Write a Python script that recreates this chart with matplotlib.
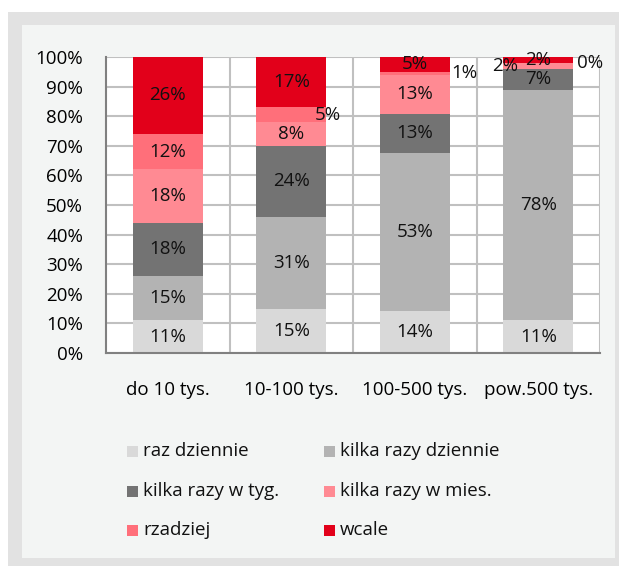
import matplotlib.pyplot as plt
from matplotlib.patches import Rectangle
import numpy as np

plt.rcParams['font.family'] = ['Open Sans', 'DejaVu Sans']

# ===== dane =====
categories = ['do 10 tys.', '10-100 tys.', '100-500 tys.', 'pow.500 tys.']
series = ['raz dziennie', 'kilka razy dziennie', 'kilka razy w tyg.',
          'kilka razy w mies.', 'rzadziej', 'wcale']
raz_dziennie = [11, 15, 14, 11]
kilka_dziennie = [15, 31, 53, 78]
kilka_tyg = [18, 24, 13, 7]
kilka_mies = [18, 8, 13, 2]
rzadziej = [12, 5, 1, 0]
wcale = [26, 17, 5, 2]

colors = ['#d9d9d9', '#b3b3b3', '#737373', '#ff8a93', '#ff6f7a', '#e2001a']
# etykiety przesunięte obok słupka: (kategoria, seria) -> przesunięcie x
label_shift = {(1, 4): 0.30, (2, 4): 0.40, (3, 3): -0.27, (3, 4): 0.42}
FS = 13.5

W, H = 619, 566
fig = plt.figure(figsize=(W / 100, H / 100), dpi=100, facecolor='white')

# ramka tła
fig.add_artist(Rectangle((8 / W, 0), 1, 1 - 12 / H, transform=fig.transFigure,
                         facecolor='#e2e2e2', edgecolor='none', zorder=-10))
fig.add_artist(Rectangle((22 / W, 1 - 558 / H), (615 - 22) / W, (558 - 25) / H,
                         transform=fig.transFigure, facecolor='#f3f5f4',
                         edgecolor='none', zorder=-9))

ax = fig.add_axes([106 / W, 1 - 353 / H, (600 - 106) / W, (353 - 57) / H])
ax.set_facecolor('white')

data = np.array([raz_dziennie, kilka_dziennie, kilka_tyg, kilka_mies, rzadziej, wcale], dtype=float)
pct = data / data.sum(axis=0) * 100  # wykres 100% skumulowany
x = np.arange(len(categories))
bottom = np.zeros(len(categories))
for i, name in enumerate(series):
    ax.bar(x, pct[i], 0.57, bottom=bottom, color=colors[i], label=name, zorder=3)
    for j in range(len(categories)):
        shift = label_shift.get((j, i))
        if data[i, j] == 0 and shift is None:
            continue
        ax.text(x[j] + (shift or 0), bottom[j] + pct[i, j] / 2, f'{int(data[i, j])}%',
                ha='center', va='center', fontsize=FS, color='#111111', zorder=5)
    bottom += pct[i]

ax.set_xlim(-0.5, 3.5)
ax.set_ylim(0, 100)
ax.set_yticks(np.arange(0, 101, 10))
ax.set_yticklabels([f'{v}%' for v in range(0, 101, 10)], fontsize=FS)
ax.set_xticks(x)
ax.set_xticklabels(categories, fontsize=FS)
ax.set_xticks([0.5, 1.5, 2.5, 3.5], minor=True)
ax.tick_params(axis='both', which='both', length=0)
ax.tick_params(axis='x', pad=20)
ax.tick_params(axis='y', pad=16.5)
ax.grid(axis='y', color='#c0c0c0', lw=1.5, zorder=0)
ax.grid(axis='x', which='minor', color='#c0c0c0', lw=1.5, zorder=0)
for s in ['top', 'right']:
    ax.spines[s].set_visible(False)
for s in ['left', 'bottom']:
    ax.spines[s].set_color('#808080')
    ax.spines[s].set_linewidth(1.5)
    ax.spines[s].set_zorder(4)

# legenda (2 kolumny, wierszami)
leg_x = [127, 324]
leg_y = [451, 491, 530]
for k, name in enumerate(series):
    px, py = leg_x[k % 2], leg_y[k // 2]
    fig.add_artist(Rectangle((px / W, 1 - (py + 5.5) / H), 11 / W, 11 / H,
                             transform=fig.transFigure, facecolor=colors[k], edgecolor='none'))
    fig.text((px + 16) / W, 1 - py / H, name, ha='left', va='center',
             fontsize=FS, color='#111111')

fig.savefig('out.png', dpi=100, facecolor=fig.get_facecolor())
